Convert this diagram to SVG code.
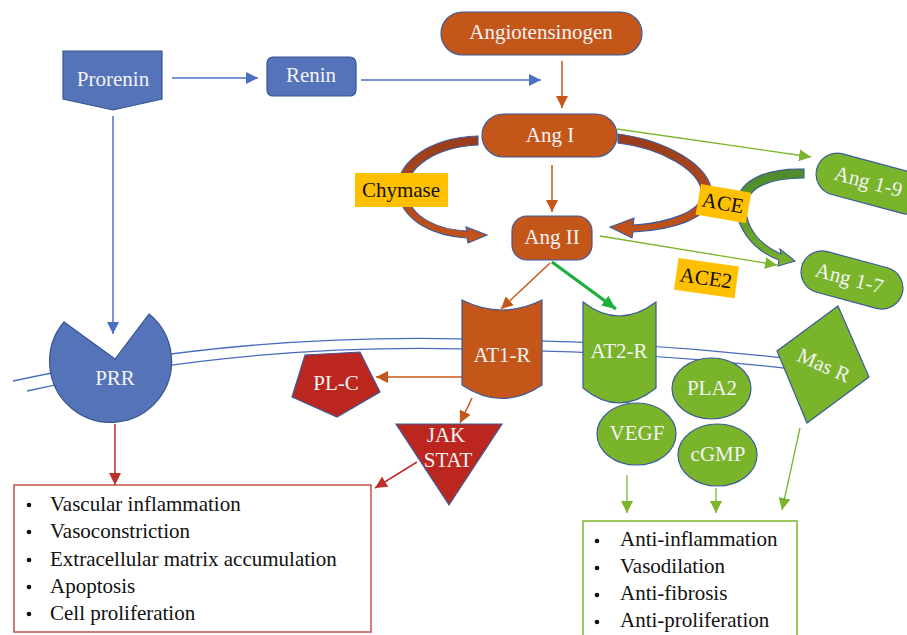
<svg xmlns="http://www.w3.org/2000/svg" width="907" height="635" viewBox="0 0 907 635">
<defs>
<style>
.lbl{font-family:"Liberation Serif","Times New Roman",serif;font-size:21px;fill:#f3f3f3;text-anchor:middle}
.blk{font-family:"Liberation Serif","Times New Roman",serif;font-size:21px;fill:#111111}
.blue{fill:#5473b9;stroke:#34558f;stroke-width:1.2}
.orange{fill:#c5561a;stroke:#3b5a9c;stroke-width:1.2}
.green{fill:#7ab42a;stroke:#3b5a9c;stroke-width:1.2}
.red{fill:#bb271f;stroke:#3b5a9c;stroke-width:1.2}
.yel{fill:#ffc000}
.mem{fill:none;stroke:#4a6cc0;stroke-width:1.3}
.cb{stroke:#4a70c4;stroke-width:1.5;fill:none}
.co{stroke:#c5561a;stroke-width:1.5;fill:none}
.cr{stroke:#c0302a;stroke-width:1.5;fill:none}
.cg{stroke:#7ab52a;stroke-width:1.3;fill:none}
.cgb{stroke:#1caf3c;stroke-width:3.2;fill:none}
.bul{fill:#111111}
</style>
<marker id="mb" markerUnits="userSpaceOnUse" viewBox="0 0 12 12" refX="12" refY="6" markerWidth="12" markerHeight="12" orient="auto"><path d="M0,0 L12,6 L0,12 Z" fill="#4a70c4"/></marker>
<marker id="mo" markerUnits="userSpaceOnUse" viewBox="0 0 12 12" refX="12" refY="6" markerWidth="12" markerHeight="12" orient="auto"><path d="M0,0 L12,6 L0,12 Z" fill="#c5561a"/></marker>
<marker id="mr" markerUnits="userSpaceOnUse" viewBox="0 0 12 12" refX="12" refY="6" markerWidth="12" markerHeight="12" orient="auto"><path d="M0,0 L12,6 L0,12 Z" fill="#c0302a"/></marker>
<marker id="mg" markerUnits="userSpaceOnUse" viewBox="0 0 12 12" refX="12" refY="6" markerWidth="12" markerHeight="12" orient="auto"><path d="M0,0 L12,6 L0,12 Z" fill="#7ab52a"/></marker>
<marker id="mgb" markerUnits="userSpaceOnUse" viewBox="0 0 14 12" refX="14" refY="6" markerWidth="14" markerHeight="12" orient="auto"><path d="M0,0 L14,6 L0,12 Z" fill="#1caf3c"/></marker>
<linearGradient id="gbr" x1="0" y1="0" x2="0" y2="1"><stop offset="0" stop-color="#983c1c"/><stop offset="1" stop-color="#c4541a"/></linearGradient>
<linearGradient id="ggr" x1="0" y1="0" x2="0" y2="1"><stop offset="0" stop-color="#4f8a2c"/><stop offset="0.5" stop-color="#5f9a2c"/><stop offset="1" stop-color="#7ab42a"/></linearGradient>
</defs>

<g id="membrane">
<path class="mem" d="M13,381 Q250,330 500,340 Q650,342 800,360"/>
<path class="mem" d="M27,391 Q255,340 500,350 Q650,352 800,370"/>
</g>

<g id="connectors">
<line class="cb" x1="172" y1="78" x2="258" y2="78" marker-end="url(#mb)"/>
<line class="cb" x1="361" y1="80" x2="541" y2="80" marker-end="url(#mb)"/>
<line class="cb" x1="113" y1="116" x2="113" y2="334" marker-end="url(#mb)"/>
<line class="co" x1="562" y1="61" x2="562" y2="108" marker-end="url(#mo)"/>
<line class="co" x1="552" y1="165" x2="552" y2="212" marker-end="url(#mo)"/>
<line class="cg" x1="617" y1="129" x2="811" y2="157" marker-end="url(#mg)"/>
<line class="cg" x1="600" y1="236" x2="777" y2="265" marker-end="url(#mg)"/>
<line class="co" x1="550" y1="263" x2="501" y2="309" marker-end="url(#mo)"/>
<line class="cgb" x1="552" y1="262" x2="616" y2="309" marker-end="url(#mgb)"/>
<line class="co" x1="462" y1="377" x2="376" y2="377" marker-end="url(#mo)"/>
<line class="co" x1="472" y1="398" x2="460" y2="423" marker-end="url(#mo)"/>
<line class="cr" x1="115" y1="424" x2="115" y2="485" marker-end="url(#mr)"/>
<line class="cr" x1="417" y1="462" x2="375" y2="488" marker-end="url(#mr)"/>
<line class="cg" x1="627" y1="475" x2="627" y2="513" marker-end="url(#mg)"/>
<line class="cg" x1="716" y1="488" x2="716" y2="513" marker-end="url(#mg)"/>
<line class="cg" x1="800" y1="428" x2="782" y2="510" marker-end="url(#mg)"/>
<path d="M478,136 C425,138 395,165 398,192 C402,222 435,236 467,238 L468,243 L487,235 L466,227 L467,231 C440,230 409,218 407,192 C405,168 435,147 478,145 Z" fill="url(#gbr)" stroke="#3b5a9c" stroke-width="1.1"/>
<path d="M618,134 C665,140 712,165 712,195 C710,220 670,230 633,232 L632,238 L610,227 L634,218 L633,225 C668,223 700,212 702,195 C702,170 660,148 618,143 Z" fill="url(#gbr)" stroke="#3b5a9c" stroke-width="1.1"/>
<path d="M804,169 C770,168 742,178 737,200 C733,225 752,250 779,260 L778,266 L795,261 L780,249 L781,254 C760,245 745,228 746,205 C749,186 772,178 804,178 Z" fill="url(#ggr)" stroke="#3b5a9c" stroke-width="1.1"/>
</g>

<g id="prorenin"><path class="blue" d="M63,51 L162,51 L162,99 L113,110 L63,99 Z"/><text class="lbl" x="113" y="86">Prorenin</text></g>
<g id="renin"><rect class="blue" x="267" y="57" width="89" height="39" rx="6"/><text class="lbl" x="311" y="82">Renin</text></g>
<g id="angiotensinogen"><rect class="orange" x="441" y="12" width="201" height="43" rx="21.5"/><text class="lbl" x="541" y="39">Angiotensinogen</text></g>
<g id="ang1"><rect class="orange" x="482" y="114" width="135" height="43" rx="21.5"/><text class="lbl" x="550" y="142">Ang I</text></g>
<g id="ang2"><rect class="orange" x="512" y="216" width="80" height="44" rx="15"/><text class="lbl" x="552" y="244">Ang II</text></g>
<g id="chymase"><rect class="yel" x="355" y="173" width="93" height="34"/><text class="blk" x="401" y="197" text-anchor="middle">Chymase</text></g>
<g id="ace" transform="translate(723,203) rotate(10)"><rect class="yel" x="-25" y="-15" width="51" height="31"/><text class="blk" x="0" y="7" text-anchor="middle" font-size="20">ACE</text></g>
<g id="ace2" transform="translate(706,278) rotate(8)"><rect class="yel" x="-30" y="-16" width="61" height="32"/><text class="blk" x="0" y="7" text-anchor="middle" font-size="20">ACE2</text></g>
<g id="ang19" transform="translate(870,183) rotate(15)"><rect class="green" x="-55" y="-21" width="115" height="42" rx="21"/><text class="lbl" x="-2" y="6">Ang 1-9</text></g>
<g id="ang17" transform="translate(852,280) rotate(15)"><rect class="green" x="-52" y="-21" width="104" height="42" rx="21"/><text class="lbl" x="-3" y="6">Ang 1-7</text></g>
<g id="prr"><path class="blue" d="M64,322 L115,359 L149,314 A61,61 0 1 1 64,322 Z"/><text class="lbl" x="115" y="385">PRR</text></g>
<g id="at1r"><path class="orange" d="M462,300 Q502,320 542,300 L542,385 Q502,412 462,385 Z"/><text class="lbl" x="502" y="362">AT1-R</text></g>
<g id="at2r"><path class="green" d="M583,302 Q619,330 656,302 L656,388 Q619,418 583,388 Z"/><text class="lbl" x="619" y="358">AT2-R</text></g>
<g id="plc"><path class="red" d="M305,355 L360,352 L380,392 L337,417 L292,397 Z"/><text class="lbl" x="336" y="390">PL-C</text></g>
<g id="jakstat"><path class="red" d="M396,424 L502,424 L449,505 Z"/><text class="lbl" x="446" y="442">JAK</text><text class="lbl" x="448" y="467">STAT</text></g>
<g id="pla2"><ellipse class="green" cx="711.5" cy="388.5" rx="39.5" ry="30.5"/><text class="lbl" x="712" y="395">PLA2</text></g>
<g id="vegf"><ellipse class="green" cx="636.5" cy="434" rx="39.5" ry="31"/><text class="lbl" x="637" y="440">VEGF</text></g>
<g id="cgmp"><ellipse class="green" cx="717.5" cy="455" rx="39.5" ry="31"/><text class="lbl" x="718" y="461">cGMP</text></g>
<g id="masr"><path class="green" d="M838,306 L869,377 L807,423 L777,351 Z"/><text class="lbl" transform="translate(823,367) rotate(24)" x="0" y="5" font-size="20">Mas R</text></g>

<g id="effects-at1">
<rect x="14" y="485" width="357" height="147" fill="#ffffff" stroke="#c0504d" stroke-width="1.5"/>
<circle class="bul" cx="29" cy="505" r="2.3"/><text class="blk" x="50" y="511">Vascular inflammation</text>
<circle class="bul" cx="29" cy="532" r="2.3"/><text class="blk" x="50" y="538">Vasoconstriction</text>
<circle class="bul" cx="29" cy="560" r="2.3"/><text class="blk" x="50" y="566">Extracellular matrix accumulation</text>
<circle class="bul" cx="29" cy="587" r="2.3"/><text class="blk" x="50" y="593">Apoptosis</text>
<circle class="bul" cx="29" cy="614" r="2.3"/><text class="blk" x="50" y="620">Cell proliferation</text>
</g>
<g id="effects-at2">
<rect x="583" y="521" width="214" height="130" fill="#ffffff" stroke="#7ab52a" stroke-width="1.5"/>
<circle class="bul" cx="597" cy="541" r="2.3"/><text class="blk" x="620" y="546">Anti-inflammation</text>
<circle class="bul" cx="597" cy="568" r="2.3"/><text class="blk" x="620" y="573">Vasodilation</text>
<circle class="bul" cx="597" cy="595" r="2.3"/><text class="blk" x="620" y="600">Anti-fibrosis</text>
<circle class="bul" cx="597" cy="622" r="2.3"/><text class="blk" x="620" y="627">Anti-proliferation</text>
</g>
</svg>
